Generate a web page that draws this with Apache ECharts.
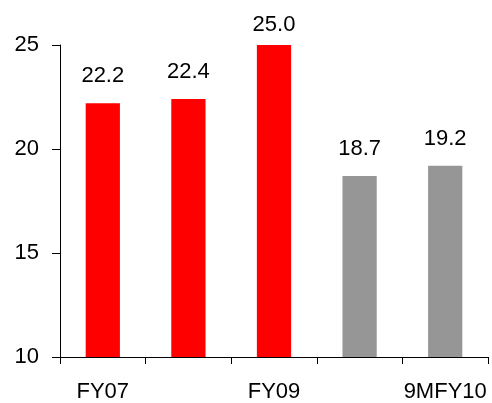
<!DOCTYPE html>
<html>
<head>
<meta charset="utf-8">
<script src="https://cdn.jsdelivr.net/npm/echarts@6/dist/echarts.min.js"></script>
<style>
  html, body { margin: 0; padding: 0; background: #fff; }
  #chart { width: 492px; height: 403px; }
</style>
</head>
<body>
<div id="chart"></div>
<script>
// Periods shown on the category axis
const categories = ['FY07', 'FY08', 'FY09', '9MFY09', '9MFY10'];
// Values per period
const values = [22.2, 22.4, 25.0, 18.7, 19.2];
// Full years in red, nine-month periods in grey
const barColors = ['#ff0000', '#ff0000', '#ff0000', '#969696', '#969696'];

const yMin = 10, yMax = 25, yStep = 5;
const font = '"Liberation Sans", Arial, sans-serif';

const chart = echarts.init(document.getElementById('chart'), null, { renderer: 'canvas' });

chart.setOption({
  animation: false,
  backgroundColor: '#ffffff',
  grid: { left: 60, right: 4, top: 45, bottom: 46, containLabel: false },
  xAxis: {
    type: 'category',
    data: categories,
    boundaryGap: true,
    axisLine: { show: true, lineStyle: { color: '#000', width: 1 } },
    axisTick: { show: true, interval: 0, length: 7, alignWithLabel: false, lineStyle: { color: '#000' } },
    axisLabel: { interval: 1, margin: 24, color: '#000', fontSize: 22, fontFamily: font },
    splitLine: { show: false }
  },
  yAxis: {
    type: 'value',
    min: yMin,
    max: yMax,
    interval: yStep,
    axisLine: { show: true, lineStyle: { color: '#000', width: 1 } },
    axisTick: { show: true, length: 8, lineStyle: { color: '#000' } },
    axisLabel: { margin: 21, color: '#000', fontSize: 22, fontFamily: font },
    splitLine: { show: false }
  },
  series: [{
    type: 'bar',
    barWidth: '40%',
    data: values.map((v, i) => ({
      value: v,
      itemStyle: { color: barColors[i] },
      // the tallest bar sits at the top of the axis, so its label hugs it more closely
      label: { distance: v >= yMax ? 9 : 16 }
    })),
    label: {
      show: true,
      position: 'top',
      color: '#000',
      fontSize: 22,
      fontFamily: font,
      formatter: p => p.value.toFixed(1)
    }
  }]
});
</script>
</body>
</html>
